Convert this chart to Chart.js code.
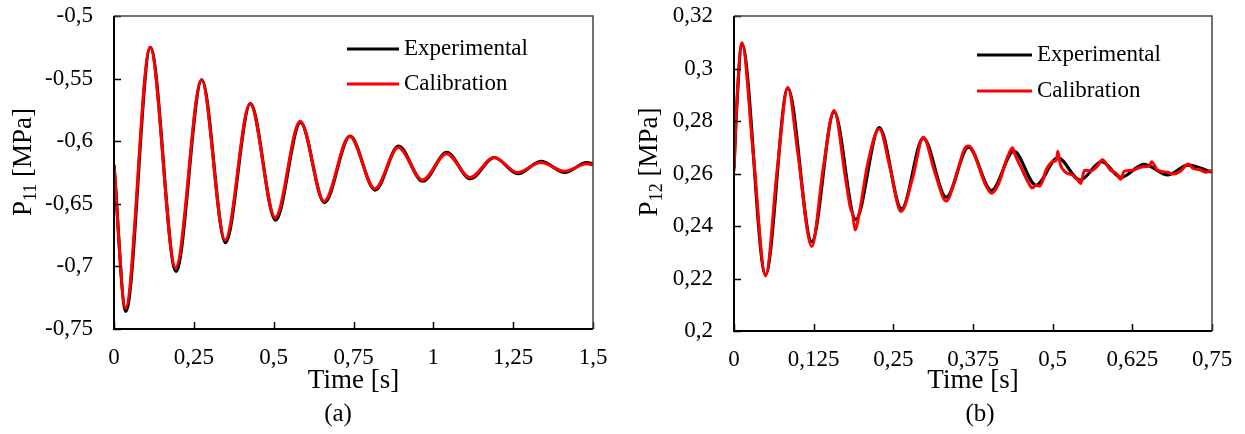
<!DOCTYPE html>
<html>
<head>
<meta charset="utf-8">
<script src="https://cdn.jsdelivr.net/npm/chart.js@4.4.0/dist/chart.umd.min.js"></script>
<style>
  body { margin: 0; background: #fff; }
  #chartA { position: absolute; left: 0; top: 0; }
  #chartB { position: absolute; left: 620px; top: 0; }
</style>
</head>
<body>
<canvas id="chartA" width="620" height="434"></canvas>
<canvas id="chartB" width="625" height="434"></canvas>
<script>
// ---- panel (a): P11 ----
const timeExpA = [0, 0.037, 0.114, 0.194, 0.275, 0.349, 0.427, 0.506, 0.584, 0.659, 0.739, 0.818, 0.891, 0.967, 1.042, 1.116, 1.191, 1.265, 1.337, 1.412, 1.48, 1.5]
const p11Exp   = [-0.619, -0.736, -0.525, -0.704, -0.551, -0.681, -0.570, -0.663, -0.585, -0.649, -0.596, -0.639, -0.604, -0.632, -0.609, -0.630, -0.613, -0.626, -0.616, -0.625, -0.617, -0.618]
const timeCalA = [0, 0.036, 0.113, 0.193, 0.274, 0.348, 0.426, 0.505, 0.583, 0.658, 0.738, 0.817, 0.890, 0.966, 1.041, 1.115, 1.190, 1.264, 1.336, 1.411, 1.48, 1.5]
const p11Cal   = [-0.619, -0.733, -0.525, -0.701, -0.551, -0.679, -0.570, -0.661, -0.584, -0.648, -0.596, -0.638, -0.605, -0.631, -0.610, -0.629, -0.613, -0.625, -0.617, -0.624, -0.618, -0.619]
const xTicksA  = [0, 0.25, 0.5, 0.75, 1, 1.25, 1.5]
const xLabelsA = ['0', '0,25', '0,5', '0,75', '1', '1,25', '1,5']
const yTicksA  = [-0.75, -0.7, -0.65, -0.6, -0.55, -0.5]
const yLabelsA = ['-0,75', '-0,7', '-0,65', '-0,6', '-0,55', '-0,5']

// ---- panel (b): P12 ----
const timeExpB = [0, 0.004, 0.0125, 0.0495, 0.0845, 0.122, 0.157, 0.191, 0.228, 0.263, 0.297, 0.333, 0.368, 0.404, 0.439, 0.474, 0.508, 0.543, 0.577, 0.607, 0.643, 0.681, 0.712, 0.75]
const p12Exp   = [0.262, 0.284, 0.3092, 0.2215, 0.2925, 0.234, 0.2835, 0.2425, 0.2775, 0.2465, 0.2735, 0.251, 0.2700, 0.2535, 0.2685, 0.2555, 0.2660, 0.2575, 0.2645, 0.2585, 0.2635, 0.2595, 0.2632, 0.2605]
const timeCalB = [0, 0.004, 0.0125, 0.03, 0.0495, 0.068, 0.0845, 0.1, 0.122, 0.14, 0.157, 0.175, 0.183, 0.186, 0.190, 0.197, 0.21, 0.228, 0.245, 0.262, 0.28, 0.297, 0.315, 0.333, 0.35, 0.362, 0.368, 0.373, 0.385, 0.395, 0.404, 0.415, 0.428, 0.437, 0.441, 0.45, 0.462, 0.468, 0.474, 0.48, 0.49, 0.5, 0.506, 0.508, 0.512, 0.52, 0.53, 0.538, 0.544, 0.55, 0.56, 0.57, 0.578, 0.59, 0.6, 0.607, 0.612, 0.625, 0.64, 0.652, 0.655, 0.665, 0.68, 0.69, 0.7, 0.713, 0.72, 0.73, 0.74, 0.75]
const p12Cal   = [0.261, 0.285, 0.3098, 0.268, 0.2210, 0.262, 0.2928, 0.268, 0.2322, 0.262, 0.2840, 0.258, 0.2465, 0.2448, 0.2385, 0.2455, 0.264, 0.2770, 0.262, 0.2455, 0.258, 0.2738, 0.2605, 0.2495, 0.2605, 0.2695, 0.2705, 0.2695, 0.262, 0.2555, 0.2525, 0.256, 0.2655, 0.2698, 0.2672, 0.2625, 0.2565, 0.2545, 0.2555, 0.2552, 0.2615, 0.2645, 0.2652, 0.2685, 0.2635, 0.2605, 0.2595, 0.258, 0.2562, 0.2612, 0.261, 0.2628, 0.2652, 0.2615, 0.2600, 0.2578, 0.2608, 0.2612, 0.2625, 0.2628, 0.2645, 0.2612, 0.2605, 0.2598, 0.2608, 0.2636, 0.262, 0.2615, 0.2605, 0.2612]
const xTicksB  = [0, 0.125, 0.25, 0.375, 0.5, 0.625, 0.75]
const xLabelsB = ['0', '0,125', '0,25', '0,375', '0,5', '0,625', '0,75']
const yTicksB  = [0.2, 0.22, 0.24, 0.26, 0.28, 0.3, 0.32]
const yLabelsB = ['0,2', '0,22', '0,24', '0,26', '0,28', '0,3', '0,32']

const seriesNames = ['Experimental', 'Calibration']
const seriesColors = ['#000000', '#ff0000']

const FONT = '"Liberation Serif", "Times New Roman", serif'

const toPoints = (xs, ys) => xs.map((x, i) => ({x: x, y: ys[i]}))

// frame, inner ticks, y title with subscript, legend and caption
const decorations = {
    id: 'decorations',
    afterDatasetsDraw(chart, args, opts) {
        const {ctx, chartArea: {top, bottom, left, right}, scales: {x, y}} = chart

        ctx.save()
        // inner tick marks
        ctx.strokeStyle = '#000'
        ctx.lineWidth = 1.5
        ctx.beginPath()
        x.ticks.forEach(t => {
            const px = Math.round(x.getPixelForValue(t.value)) + 0.5
            ctx.moveTo(px, bottom)
            ctx.lineTo(px, bottom - 7)
        })
        y.ticks.forEach(t => {
            const py = Math.round(y.getPixelForValue(t.value)) + 0.5
            ctx.moveTo(left, py)
            ctx.lineTo(left + 7, py)
        })
        ctx.stroke()

        // top + right border
        ctx.strokeStyle = '#444'
        ctx.lineWidth = 1.5
        ctx.beginPath()
        ctx.moveTo(left, top)
        ctx.lineTo(right, top)
        ctx.lineTo(right, bottom)
        ctx.stroke()

        // left + bottom axis
        ctx.strokeStyle = '#000'
        ctx.lineWidth = 2
        ctx.beginPath()
        ctx.moveTo(left, top)
        ctx.lineTo(left, bottom)
        ctx.lineTo(right, bottom)
        ctx.stroke()
        ctx.restore()
    },
    afterDraw(chart, args, opts) {
        const {ctx} = chart
        ctx.save()
        ctx.fillStyle = '#000'

        // rotated y title "P11 [MPa]" with subscript
        ctx.translate(opts.yTitleX, opts.yTitleY)
        ctx.rotate(-Math.PI / 2)
        const big = '27px ' + FONT
        const small = '18px ' + FONT
        ctx.font = big
        const wP = ctx.measureText('P').width
        const wRest = ctx.measureText(' [MPa]').width
        ctx.font = small
        const wSub = ctx.measureText(opts.sub).width
        let tx = -(wP + wSub + wRest) / 2
        ctx.textBaseline = 'alphabetic'
        ctx.textAlign = 'left'
        ctx.font = big
        ctx.fillText('P', tx, 9)
        tx += wP
        ctx.font = small
        ctx.fillText(opts.sub, tx, 14)
        tx += wSub
        ctx.font = big
        ctx.fillText(' [MPa]', tx, 9)
        ctx.setTransform(1, 0, 0, 1, 0, 0)

        // legend
        ctx.font = '23px ' + FONT
        ctx.textBaseline = 'middle'
        ctx.lineWidth = 3
        chart.data.datasets.forEach((ds, i) => {
            const ly = opts.legendY + i * opts.legendGap
            ctx.strokeStyle = ds.borderColor
            ctx.beginPath()
            ctx.moveTo(opts.legendX, ly)
            ctx.lineTo(opts.legendX + opts.legendLen, ly)
            ctx.stroke()
            ctx.fillText(ds.label, opts.legendX + opts.legendLen + 5, ly)
        })

        // caption
        ctx.font = '25px ' + FONT
        ctx.textAlign = 'center'
        ctx.fillText(opts.caption, opts.captionX, 414)
        ctx.restore()
    }
}

const tickFont = {family: FONT, size: 23}

const makeScale = (ticks, labels, fitSize, isX) => ({
    type: 'linear',
    min: ticks[0],
    max: ticks[ticks.length - 1],
    afterBuildTicks: s => { s.ticks = ticks.map(v => ({value: v})) },
    afterFit: s => {
        // fixed box sizes so the plot area lands where the original one is
        if (isX) {
            s.height = fitSize
            s.paddingLeft = 0
            s.paddingRight = 0
        } else {
            s.width = fitSize
            s.paddingTop = 0
            s.paddingBottom = 0
        }
    },
    grid: {display: false, drawTicks: false},
    border: {display: false},
    ticks: {
        color: '#000',
        font: tickFont,
        padding: isX ? 15 : 21,
        autoSkip: false,
        maxRotation: 0,
        callback: (v, i) => labels[i]
    },
    title: isX ? {
        display: true,
        text: 'Time [s]',
        color: '#000',
        font: {family: FONT, size: 27},
        padding: {top: 0, bottom: 37}
    } : {display: false}
})

const makePanel = (id, expX, expY, calX, calY, xt, xl, yt, yl, pad, xFit, deco) => {
    const data = {
        datasets: [{
            label: seriesNames[0],
            data: toPoints(expX, expY),
            borderColor: seriesColors[0],
            borderWidth: 3.2,
            order: 1
        }, {
            label: seriesNames[1],
            data: toPoints(calX, calY),
            borderColor: seriesColors[1],
            borderWidth: 3,
            order: 0
        }]
    }

    const config = {
        type: 'line',
        data,
        options: {
            responsive: false,
            animation: false,
            layout: {padding: pad},
            elements: {
                point: {radius: 0},
                line: {cubicInterpolationMode: 'monotone', fill: false}
            },
            scales: {
                x: makeScale(xt, xl, xFit, true),
                y: makeScale(yt, yl, 114, false)
            },
            plugins: {
                legend: {display: false},
                tooltip: {enabled: false},
                decorations: deco
            }
        },
        plugins: [decorations]
    }

    return new Chart(document.getElementById(id), config)
}

makePanel('chartA', timeExpA, p11Exp, timeCalA, p11Cal, xTicksA, xLabelsA, yTicksA, yLabelsA,
    {top: 16, right: 27, bottom: 0, left: 0}, 105,
    {sub: '11', yTitleX: 22, yTitleY: 162, legendX: 347, legendY: 49, legendGap: 35, legendLen: 52, caption: '(a)', captionX: 338})

makePanel('chartB', timeExpB, p12Exp, timeCalB, p12Cal, xTicksB, xLabelsB, yTicksB, yLabelsB,
    {top: 16, right: 33, bottom: 0, left: 0}, 103,
    {sub: '12', yTitleX: 28, yTitleY: 162, legendX: 357, legendY: 55, legendGap: 36, legendLen: 55, caption: '(b)', captionX: 360})
</script>
</body>
</html>
